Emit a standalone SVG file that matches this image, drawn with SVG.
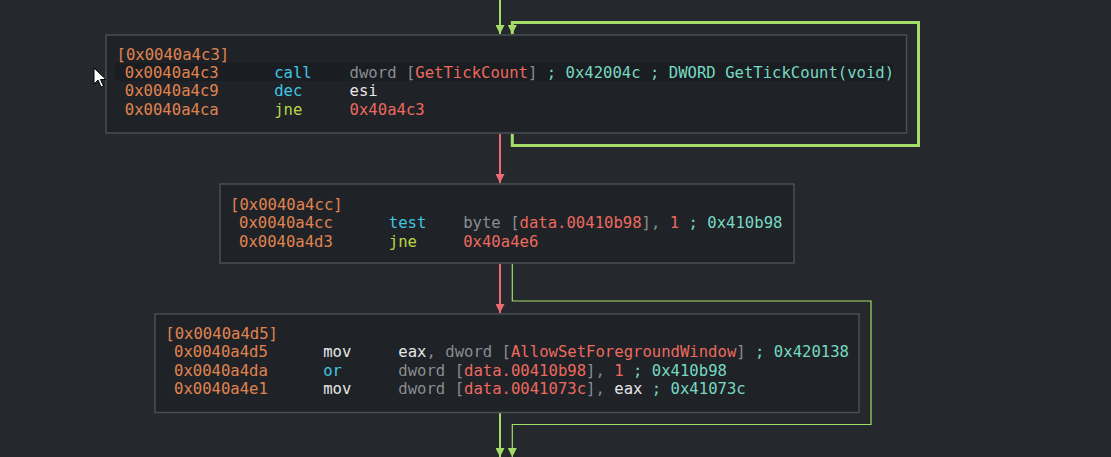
<svg xmlns="http://www.w3.org/2000/svg" width="1111" height="457" viewBox="0 0 1111 457">
<defs>
<style>
text{font-family:"DejaVu Sans Mono","Liberation Mono",monospace;font-size:15.6px;white-space:pre}
.blk{fill:#1f2227;stroke:#4b4e52;stroke-width:1.5}
.ad{fill:#e0844f}
.cy{fill:#41c6e3}
.jn{fill:#b8d646}
.wh{fill:#e6e6e6}
.gr{fill:#8a8d90}
.rd{fill:#ec6a5e}
.tl{fill:#76d9c2}
.eg{fill:none;stroke:#a3dc68;stroke-width:2}
.eg3{fill:none;stroke:#a3dc68;stroke-width:3}
.er{fill:none;stroke:#ee6a72;stroke-width:2}
</style>
<marker id="ag" viewBox="0 0 10 10" refX="10" refY="5" markerWidth="9" markerHeight="9" markerUnits="userSpaceOnUse" orient="auto"><path d="M0,0 L10,5 L0,10 Z" fill="#a3dc68"/></marker>
<marker id="ar" viewBox="0 0 10 10" refX="10" refY="5" markerWidth="9" markerHeight="9" markerUnits="userSpaceOnUse" orient="auto"><path d="M0,0 L10,5 L0,10 Z" fill="#ee6a72"/></marker>
</defs>
<rect x="0" y="0" width="1111" height="457" fill="#25282c"/>
<g id="connectors">
<path class="eg" d="M500,0 V34" marker-end="url(#ag)"/>
<path class="eg3" d="M512.3,134 V145.5 H918.5 V22.5 H512.3 V34" marker-end="url(#ag)"/>
<path class="er" d="M500,134 V183" marker-end="url(#ar)"/>
<path class="er" d="M500,264 V313" marker-end="url(#ar)"/>
<path class="eg" style="stroke-width:1.2" d="M512.3,264 V301 H871 V424.5 H512.3 V457" marker-end="url(#ag)"/>
<path class="eg" d="M500,413 V457" marker-end="url(#ag)"/>
</g>
<g id="block-0x0040a4c3">
<rect class="blk" x="106" y="35" width="800.5" height="98"/>
<rect x="115" y="63" width="778" height="18" fill="#1a1d21"/>
<text x="116.5" y="59.5" class="ad">[0x0040a4c3]</text>
<text y="78"><tspan x="124.8" class="ad">0x0040a4c3</tspan><tspan x="274.2" class="cy">call</tspan><tspan x="349.6" class="gr">dword [</tspan><tspan class="rd">GetTickCount</tspan><tspan class="gr">]</tspan><tspan class="tl"> ; 0x42004c ; DWORD GetTickCount(void)</tspan></text>
<text y="96.3"><tspan x="124.8" class="ad">0x0040a4c9</tspan><tspan x="274.2" class="cy">dec</tspan><tspan x="349.6" class="wh">esi</tspan></text>
<text y="114.6"><tspan x="124.8" class="ad">0x0040a4ca</tspan><tspan x="274.2" class="jn">jne</tspan><tspan x="349.6" class="rd">0x40a4c3</tspan></text>
</g>
<g id="block-0x0040a4cc">
<rect class="blk" x="220" y="184" width="574" height="79"/>
<text x="230" y="209.5" class="ad">[0x0040a4cc]</text>
<text y="228"><tspan x="239" class="ad">0x0040a4cc</tspan><tspan x="388.8" class="cy">test</tspan><tspan x="463.2" class="gr">byte [</tspan><tspan class="rd">data.00410b98</tspan><tspan class="gr">], </tspan><tspan class="rd">1</tspan><tspan class="tl"> ; 0x410b98</tspan></text>
<text y="246.5"><tspan x="239" class="ad">0x0040a4d3</tspan><tspan x="388.8" class="jn">jne</tspan><tspan x="463.2" class="rd">0x40a4e6</tspan></text>
</g>
<g id="block-0x0040a4d5">
<rect class="blk" x="155" y="314" width="704" height="98.5"/>
<text x="165.3" y="338.5" class="ad">[0x0040a4d5]</text>
<text y="357.3"><tspan x="174" class="ad">0x0040a4d5</tspan><tspan x="323.2" class="wh">mov</tspan><tspan x="398.3" class="wh">eax</tspan><tspan class="gr">, dword [</tspan><tspan class="rd">AllowSetForegroundWindow</tspan><tspan class="gr">]</tspan><tspan class="tl"> ; 0x420138</tspan></text>
<text y="375.6"><tspan x="174" class="ad">0x0040a4da</tspan><tspan x="323.2" class="cy">or</tspan><tspan x="398.3" class="gr">dword [</tspan><tspan class="rd">data.00410b98</tspan><tspan class="gr">], </tspan><tspan class="rd">1</tspan><tspan class="tl"> ; 0x410b98</tspan></text>
<text y="394"><tspan x="174" class="ad">0x0040a4e1</tspan><tspan x="323.2" class="wh">mov</tspan><tspan x="398.3" class="gr">dword [</tspan><tspan class="rd">data.0041073c</tspan><tspan class="gr">], </tspan><tspan class="wh">eax</tspan><tspan class="tl"> ; 0x41073c</tspan></text>
</g>
<path d="M94,68 L94,84 L98,80 L101,87 L103.5,86 L100.5,79.5 L106,79.5 Z" fill="#ffffff" stroke="#000000" stroke-width="1"/>
</svg>
